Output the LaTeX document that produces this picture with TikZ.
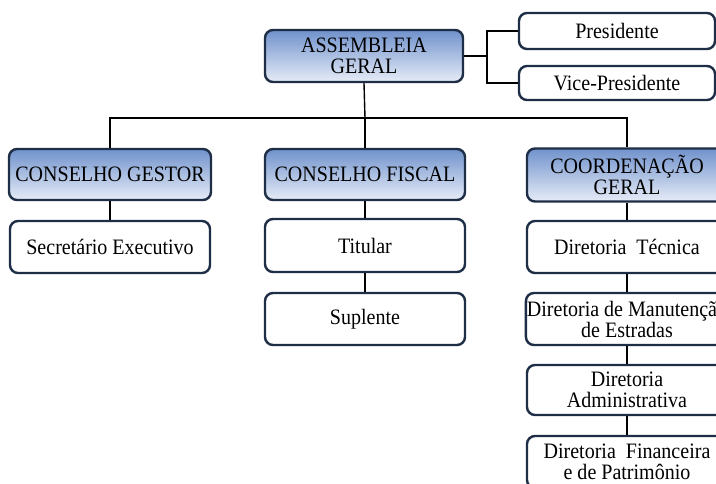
\documentclass[tikz,border=0pt]{standalone}
\usepackage{fontspec}
\setmainfont{Liberation Serif}[FakeStretch=0.91]
\usepackage{tikz}
\definecolor{navy}{RGB}{30,46,70}
\definecolor{headtop}{RGB}{112,146,204}
\definecolor{headbot}{RGB}{230,236,247}

\begin{document}
\begin{tikzpicture}[x=1pt, y=-1pt,
    orgbox/.style={draw=navy, line width=2.4pt, rounded corners=8pt,
      inner sep=1pt, align=center, minimum width=200pt, minimum height=52pt,
      font=\fontsize{22}{21}\selectfont},
    headbox/.style={orgbox, top color=headtop, bottom color=headbot},
    plainbox/.style={orgbox, fill=white},
    link/.style={draw=black, line width=1.4pt}]
      \useasboundingbox (0, 0) rectangle (716, 483);
      \fill[white] (0, 0) rectangle (716, 483);
      \clip (0, 0) rectangle (716, 483);
      % top level
      \node[headbox, minimum width=198pt] (asm) at (364, 56) {ASSEMBLEIA\\GERAL};
      \node[plainbox, minimum width=196pt, minimum height=36pt] (pres) at (617, 31) {Presidente};
      \node[plainbox, minimum width=196pt, minimum height=34pt] (vice) at (617, 83) {Vice-Presidente};
      \coordinate (fork) at (487, 56);
      \coordinate (bus) at (365, 118);
      % councils
      \node[headbox, minimum width=202pt, minimum height=51pt] (gestor) at (110, 174.5) {CONSELHO GESTOR};
      \node[headbox, minimum height=51pt] (fiscal) at (365, 174.5) {CONSELHO FISCAL};
      \node[headbox, minimum height=53pt] (coord) at (627, 175) {COORDENAÇÃO\\GERAL};
      % lower boxes
      \node[plainbox] (sec) at (110, 247) {Secretário Executivo};
      \node[plainbox, minimum height=53pt] (tit) at (365, 245.5) {Titular};
      \node[plainbox] (sup) at (365, 319) {Suplente};
      \node[plainbox] (tec) at (627, 247) {Diretoria\ \ Técnica};
      \node[plainbox] (man) at (627, 319) {Diretoria de Manutenção\\de Estradas};
      \node[plainbox, minimum height=50pt] (adm) at (627, 390) {Diretoria\\Administrativa};
      \node[plainbox] (fin) at (627, 462) {Diretoria\ \ Financeira\\e de Patrimônio};
      % connectors
      \draw[link] (asm.east) -- (fork);
      \draw[link] (pres.west) -| (fork) |- (vice.west);
      \draw[link] (asm.south) -- (bus);
      \draw[link] (gestor.north) |- (bus) -| (coord.north);
      \draw[link] (bus) -- (fiscal.north);
      \draw[link] (gestor) -- (sec);
      \draw[link] (fiscal) -- (tit);
      \draw[link] (tit) -- (sup);
      \draw[link] (coord) -- (tec);
      \draw[link] (tec) -- (man);
      \draw[link] (man) -- (adm);
      \draw[link] (adm) -- (fin);
    \end{tikzpicture}
\end{document}
